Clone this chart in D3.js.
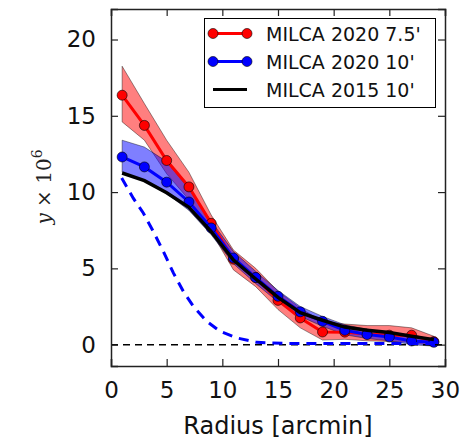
<!DOCTYPE html>
<html>
<head>
<meta charset="utf-8">
<script src="https://cdn.jsdelivr.net/npm/d3@7"></script>
<style>
    body { margin: 0; background: #fff; }
    svg { display: block; font-family: 'DejaVu Sans', sans-serif; }
</style>
</head>
<body>
<div id="chart"></div>
<script>
// radial bins (arcmin)
const radius = [1, 3, 5, 7, 9, 11, 13, 15, 17, 19, 21, 23, 25, 27, 29];

// MILCA 2020 7.5'
const red = [16.35, 14.37, 12.07, 10.34, 7.95, 5.6, 4.4, 2.9, 1.75, 0.83, 0.82, 0.7, 0.62, 0.62, 0.2];
const redLow = [14.6, 13.4, 11.2, 9.5, 7.4, 4.9, 3.8, 2.3, 1.1, 0.3, 0.35, 0.25, 0.2, 0.15, -0.1];
const redHigh = [18.25, 15.8, 13.4, 11.3, 8.5, 6.2, 5.0, 3.5, 2.4, 1.5, 1.35, 1.25, 1.25, 1.1, 0.55];

// MILCA 2020 10'
const blue = [12.3, 11.65, 10.65, 9.35, 7.65, 5.68, 4.4, 3.17, 2.15, 1.53, 0.94, 0.66, 0.5, 0.24, 0.15];
const blueLow = [11.3, 10.7, 9.9, 8.8, 7.2, 5.3, 4.0, 2.8, 1.85, 1.2, 0.65, 0.4, 0.25, 0.0, -0.1];
const blueHigh = [13.4, 12.95, 12.0, 10.2, 8.1, 6.1, 4.8, 3.55, 2.5, 1.85, 1.3, 1.0, 0.8, 0.55, 0.4];

// MILCA 2015 10'
const black = [11.25, 10.75, 9.95, 9.0, 7.4, 5.55, 4.3, 3.1, 2.1, 1.6, 1.15, 0.95, 0.8, 0.55, 0.33];

// beam profile (dashed)
const beamX = [0.96, 2, 2.9, 3.8, 4.7, 5.6, 6.5, 7.4, 8.6, 9.8, 11.3, 13.1, 16, 29];
const beamY = [10.92, 9.6, 8.63, 7.42, 6.11, 4.7, 3.49, 2.51, 1.53, 0.87, 0.44, 0.15, 0.07, 0.07];

const xTicks = [0, 5, 10, 15, 20, 25, 30];
const yTicks = [0, 5, 10, 15, 20];

const width = 474;
const height = 442;
const margin = { left: 111, right: 29, top: 9, bottom: 76 };

const svg = d3.select('#chart')
    .append('svg')
    .attr('width', width)
    .attr('height', height);

const x = d3.scaleLinear().domain([0, 30]).range([margin.left, width - margin.right]);
const y = d3.scaleLinear().domain([-1.4, 22]).range([height - margin.bottom, margin.top]);

svg.append('defs').append('clipPath').attr('id', 'plot-clip')
    .append('rect')
    .attr('x', x(0)).attr('y', y(22))
    .attr('width', x(30) - x(0)).attr('height', y(-1.4) - y(22));

const plot = svg.append('g').attr('clip-path', 'url(#plot-clip)');

function band(low, high) {
    return d3.area()
        .x((d, i) => x(radius[i]))
        .y0((d, i) => y(low[i]))
        .y1((d, i) => y(high[i]))(radius);
}

// fills first (like matplotlib zorder)
plot.append('path').attr('d', band(redLow, redHigh))
    .attr('fill', '#ff0000').attr('fill-opacity', 0.5)
    .attr('stroke', '#000').attr('stroke-opacity', 0.4).attr('stroke-width', 1);
plot.append('path').attr('d', band(blueLow, blueHigh))
    .attr('fill', '#0000ff').attr('fill-opacity', 0.5)
    .attr('stroke', '#000').attr('stroke-opacity', 0.4).attr('stroke-width', 1);

const line = d3.line().x(d => x(d[0])).y(d => y(d[1]));

function drawSeries(values, color) {
    const pts = radius.map((r, i) => [r, values[i]]);
    plot.append('path').attr('d', line(pts))
        .attr('fill', 'none').attr('stroke', color).attr('stroke-width', 3);
    plot.append('g').selectAll('circle').data(pts).enter()
        .append('circle')
        .attr('cx', d => x(d[0]))
        .attr('cy', d => y(d[1]))
        .attr('r', 5)
        .attr('fill', color)
        .attr('stroke', '#000')
        .attr('stroke-width', 0.6);
}

drawSeries(red, '#ff0000');
drawSeries(blue, '#0000ff');

plot.append('path').attr('d', line(radius.map((r, i) => [r, black[i]])))
    .attr('fill', 'none').attr('stroke', '#000').attr('stroke-width', 3.5);

// zero level
plot.append('path').attr('d', line([[0, 0], [30, 0]]))
    .attr('fill', 'none').attr('stroke', '#000').attr('stroke-width', 1.5)
    .attr('stroke-dasharray', '7,5');

// beam
plot.append('path').attr('d', line(beamX.map((b, i) => [b, beamY[i]])))
    .attr('fill', 'none').attr('stroke', '#0000ff').attr('stroke-width', 3)
    .attr('stroke-dasharray', '10,7');

// axes: inward ticks on all four sides
const tickLen = 7;
const axisColor = '#222';

const xBottom = svg.append('g').attr('transform', `translate(0,${y(-1.4)})`)
    .call(d3.axisBottom(x).tickValues(xTicks).tickSize(-tickLen).tickPadding(tickLen + 9));
const xTop = svg.append('g').attr('transform', `translate(0,${y(22)})`)
    .call(d3.axisTop(x).tickValues(xTicks).tickSize(-tickLen).tickFormat(''));
const yLeft = svg.append('g').attr('transform', `translate(${x(0)},0)`)
    .call(d3.axisLeft(y).tickValues(yTicks).tickSize(-tickLen).tickPadding(tickLen + 8));
const yRight = svg.append('g').attr('transform', `translate(${x(30)},0)`)
    .call(d3.axisRight(y).tickValues(yTicks).tickSize(-tickLen).tickFormat(''));

[xBottom, xTop, yLeft, yRight].forEach(g => {
    g.select('.domain').attr('stroke', axisColor).attr('stroke-width', 1.5);
    g.selectAll('.tick line').attr('stroke', axisColor).attr('stroke-width', 1.2);
    g.selectAll('.tick text')
        .attr('fill', '#111')
        .style('font-family', "'DejaVu Sans', sans-serif")
        .style('font-size', '23px');
});

// axis labels
svg.append('text')
    .attr('x', (x(0) + x(30)) / 2)
    .attr('y', 434)
    .attr('text-anchor', 'middle')
    .attr('fill', '#111')
    .style('font-size', '24px')
    .text('Radius [arcmin]');

const ylab = svg.append('text')
    .attr('transform', 'translate(51,187) rotate(-90)')
    .attr('text-anchor', 'middle')
    .attr('fill', '#222')
    .style('font-family', "'DejaVu Serif', serif")
    .style('font-size', '20px');
ylab.append('tspan').style('font-style', 'italic').text('y');
ylab.append('tspan').text(' \u00d7 10');
ylab.append('tspan').attr('dy', -9).style('font-size', '14px').text('6');

// legend
const legend = svg.append('g');
legend.append('rect')
    .attr('x', 204.5).attr('y', 18.5)
    .attr('width', 231).attr('height', 89)
    .attr('fill', '#fff').attr('stroke', '#000').attr('stroke-width', 1);

const legendItems = [
    { label: "MILCA 2020 7.5'", color: '#ff0000', marker: true },
    { label: "MILCA 2020 10'", color: '#0000ff', marker: true },
    { label: "MILCA 2015 10'", color: '#000', marker: false }
];

legendItems.forEach((item, i) => {
    const ly = 33.5 + i * 28;
    legend.append('line')
        .attr('x1', 213).attr('x2', 247).attr('y1', ly).attr('y2', ly)
        .attr('stroke', item.color).attr('stroke-width', 3);
    if (item.marker) {
        [213, 247].forEach(cx => {
            legend.append('circle')
                .attr('cx', cx).attr('cy', ly).attr('r', 5)
                .attr('fill', item.color).attr('stroke', '#000').attr('stroke-width', 0.6);
        });
    }
    legend.append('text')
        .attr('x', 266).attr('y', ly + 7)
        .attr('fill', '#111')
        .style('font-size', '19px')
        .text(item.label);
});
</script>
</body>
</html>
